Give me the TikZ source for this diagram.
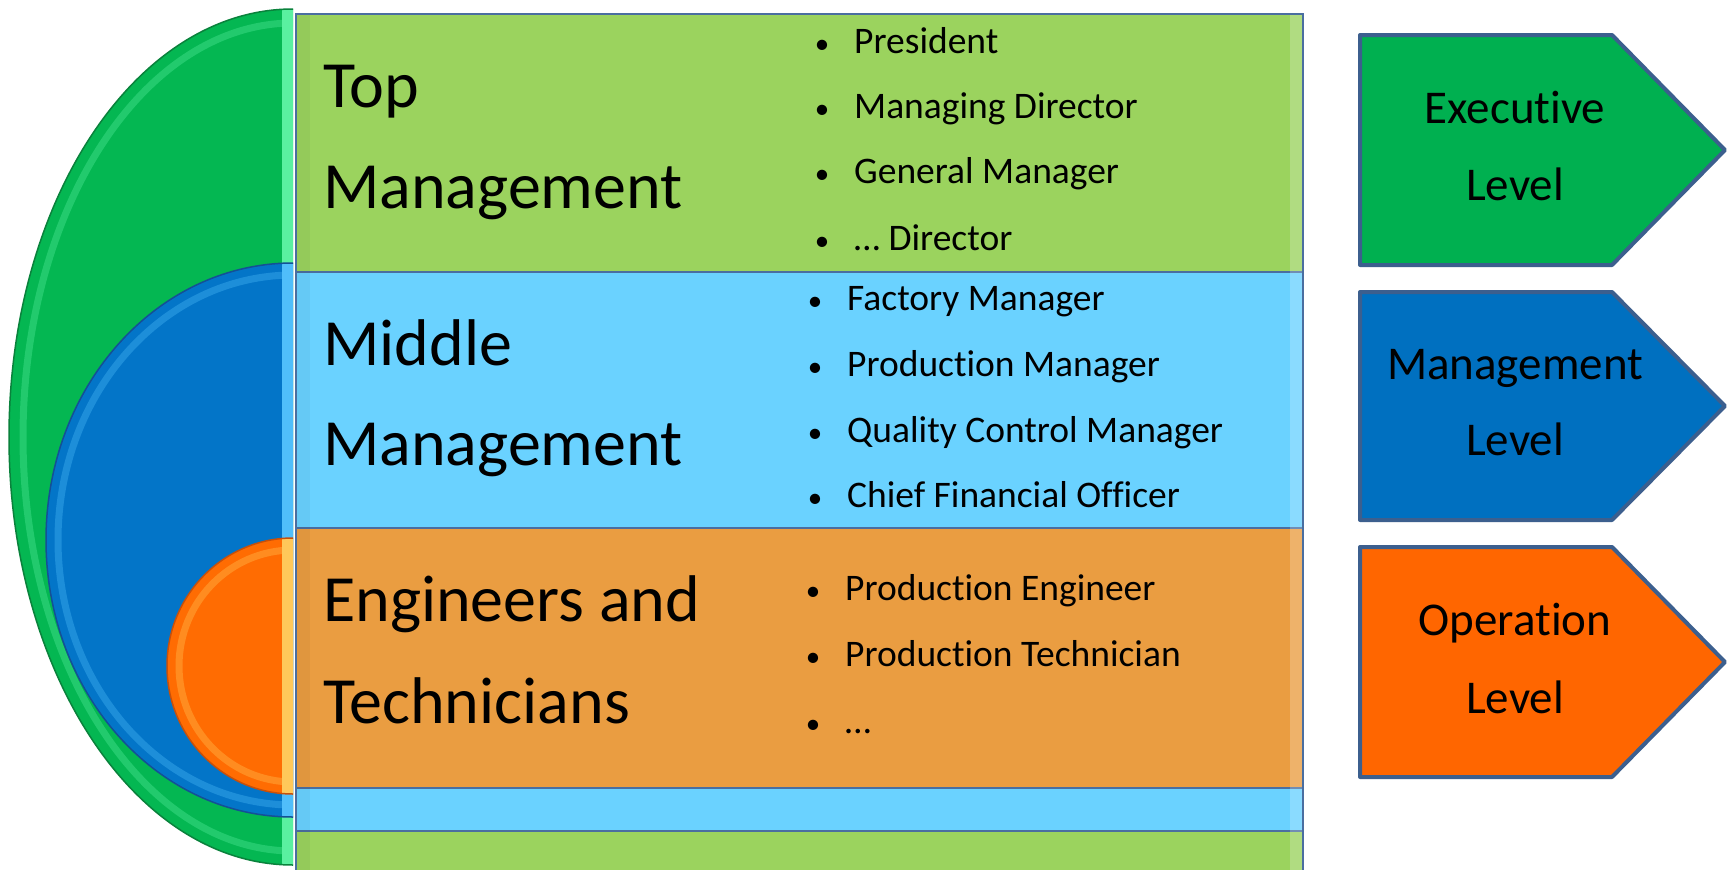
\documentclass[tikz,border=0pt]{standalone}
\usepackage{fontspec}
\setmainfont{Carlito}[Ligatures=NoCommon]
\definecolor{rgreen}{RGB}{155,211,94}
\definecolor{rblue}{RGB}{106,210,255}
\definecolor{rorange}{RGB}{234,157,65}
\definecolor{sgreen}{RGB}{4,183,82}
\definecolor{sgreenlt}{RGB}{90,240,160}
\definecolor{sgreendk}{RGB}{10,130,60}
\definecolor{sblue}{RGB}{3,117,200}
\definecolor{sbluelt}{RGB}{80,190,250}
\definecolor{sbluedk}{RGB}{20,80,150}
\definecolor{sorange}{RGB}{255,108,2}
\definecolor{sorangelt}{RGB}{255,200,90}
\definecolor{sorangedk}{RGB}{200,80,10}
\definecolor{pgreen}{RGB}{0,176,80}
\definecolor{pblue}{RGB}{0,112,192}
\definecolor{porange}{RGB}{255,102,0}
\definecolor{edge}{RGB}{60,95,142}
\definecolor{rectedge}{RGB}{74,110,160}
\tikzset{
  band/.style={draw=rectedge, line width=2},
  pent/.style={draw=edge, line width=4, line join=round},
  ring/.style={line width=7, opacity=.35},
  rim/.style={line width=1.5},
  big/.style={font=\fontsize{66}{66}\selectfont, anchor=base west, inner sep=0},
  item/.style={font=\fontsize{37.5}{37.5}\selectfont, anchor=base west, inner sep=0},
  bul/.style={font=\fontsize{29}{29}\selectfont, anchor=base, inner sep=0},
  lvl/.style={font=\fontsize{47}{47}\selectfont, anchor=base, inner sep=0},
}
\newcommand\entry[5]{%
  \node[item] (#1) at (#3,#4) {#5};
  \node[bul] (#1b) at (#2,#4) {\textbullet};}
\begin{document}
\begin{tikzpicture}[x=1pt, y=-1pt]
\clip (0,0) rectangle (1730,870);
\fill[white] (0,0) rectangle (1730,870);
% ---- stacked bands
\path[band, fill=rgreen] (296,14) rectangle (1303,900);
\path[band, fill=rblue] (296,272) rectangle (1303,831);
\path[band, fill=rorange] (296,528) rectangle (1303,788);
\fill[white, opacity=.22] (1290,15) rectangle (1302,899);
\fill[black, opacity=.04] (297,15) rectangle (310,899);
% ---- half discs
\begin{scope}
  \clip (0,0) rectangle (293,870);
  \fill[sgreen] (293,437) ellipse[x radius=284, y radius=428];
  \begin{scope}
    \clip (293,437) ellipse[x radius=284, y radius=428];
    \draw[ring, sgreenlt] (293,437) ellipse[x radius=270, y radius=414];
    \fill[sgreenlt] (282,0) rectangle (293,870);
  \end{scope}
  \draw[rim, sgreendk] (293,437) ellipse[x radius=284, y radius=428];
  \fill[sblue] (293,540) ellipse[x radius=247, y radius=277];
  \begin{scope}
    \clip (293,540) ellipse[x radius=247, y radius=277];
    \draw[ring, sbluelt] (293,540) ellipse[x radius=235, y radius=265];
    \fill[sbluelt] (282,0) rectangle (293,870);
  \end{scope}
  \draw[rim, sbluedk] (293,540) ellipse[x radius=247, y radius=277];
  \fill[sorange] (293,666) ellipse[x radius=126, y radius=128];
  \begin{scope}
    \clip (293,666) ellipse[x radius=126, y radius=128];
    \draw[ring, sorangelt] (293,666) ellipse[x radius=114, y radius=116];
    \fill[sorangelt] (282,0) rectangle (293,870);
  \end{scope}
  \draw[rim, sorangedk] (293,666) ellipse[x radius=126, y radius=128];
\end{scope}
% ---- band titles
\node[big] (t1) at (323,107) {Top};
\node[big] (t2) at (323,208) {Management};
\node[big] (m1) at (323,365) {Middle};
\node[big] (m2) at (323,465) {Management};
\node[big] (e1) at (323,621) {Engineers and};
\node[big] (e2) at (323,723) {Technicians};
% ---- lists
\entry{a1}{822}{854}{53}{President}
\entry{a2}{822}{854}{118}{Managing Director}
\entry{a3}{822}{854}{183}{General Manager}
\entry{a4}{822}{854}{250}{\dots{} Director}
\entry{b1}{815}{847}{310}{Factory Manager}
\entry{b2}{815}{847}{376}{Production Manager}
\entry{b3}{815}{847}{442}{Quality Control Manager}
\entry{b4}{815}{847}{507}{Chief Financial Officer}
\entry{c1}{813}{845}{600}{Production Engineer}
\entry{c2}{813}{845}{666}{Production Technician}
\entry{c3}{813}{845}{733}{\dots}
% ---- level arrows
\path[pent, fill=pgreen] (1360,35) -- (1612,35) -- (1725,150) -- (1612,265) -- (1360,265) -- cycle;
\path[pent, fill=pblue] (1360,292) -- (1612,292) -- (1725,406) -- (1612,520) -- (1360,520) -- cycle;
\path[pent, fill=porange] (1360,547) -- (1612,547) -- (1725,662) -- (1612,777) -- (1360,777) -- cycle;
\node[lvl] (x1) at (1515,123) {Executive};
\node[lvl] (x2) at (1515,200) {Level};
\node[lvl] (y1) at (1515,379) {Management};
\node[lvl] (y2) at (1515,455) {Level};
\node[lvl] (z1) at (1515,635) {Operation};
\node[lvl] (z2) at (1515,713) {Level};
\end{tikzpicture}
\end{document}
